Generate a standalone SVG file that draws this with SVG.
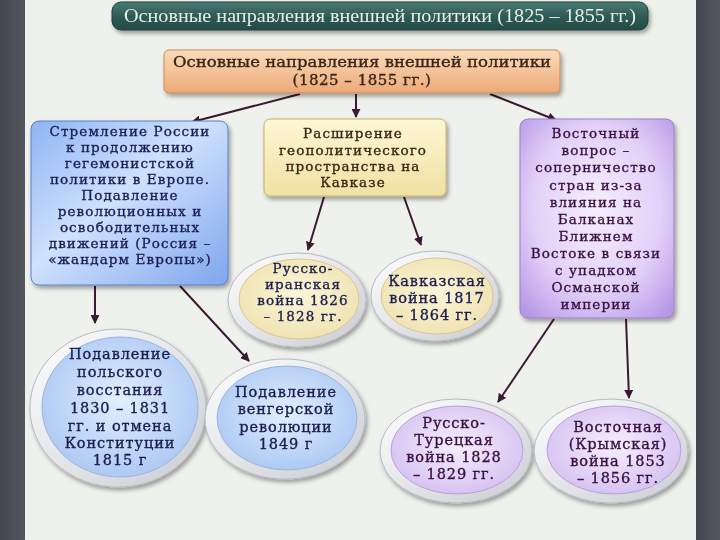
<svg xmlns="http://www.w3.org/2000/svg" width="720" height="540" viewBox="0 0 720 540">
<defs>
<linearGradient id="side" x1="0" y1="0" x2="1" y2="0"><stop offset="0" stop-color="#44474e"/><stop offset="1" stop-color="#53565d"/></linearGradient>
<linearGradient id="gTitle" x1="0" y1="0" x2="0" y2="1"><stop offset="0" stop-color="#4a7a74"/><stop offset="0.5" stop-color="#2f5b56"/><stop offset="1" stop-color="#244a45"/></linearGradient>
<linearGradient id="gTop" x1="0" y1="0" x2="0" y2="1"><stop offset="0" stop-color="#fbdcbb"/><stop offset="1" stop-color="#eca978"/></linearGradient>
<linearGradient id="gBlue" x1="0" y1="0" x2="1" y2="1"><stop offset="0" stop-color="#8fb4f3"/><stop offset="0.45" stop-color="#cfe2fd"/><stop offset="1" stop-color="#7fa5ec"/></linearGradient>
<linearGradient id="gYel" x1="0" y1="0" x2="0" y2="1"><stop offset="0" stop-color="#fdf7d6"/><stop offset="1" stop-color="#f0e1a2"/></linearGradient>
<radialGradient id="gPur" cx="0.5" cy="0.45" r="0.7"><stop offset="0" stop-color="#f6effd"/><stop offset="0.6" stop-color="#e2d0f8"/><stop offset="1" stop-color="#b597e6"/></radialGradient>
<radialGradient id="cCream" cx="0.5" cy="0.45" r="0.6"><stop offset="0" stop-color="#fbf5d8"/><stop offset="1" stop-color="#efe2b0"/></radialGradient>
<radialGradient id="cBlue" cx="0.5" cy="0.45" r="0.6"><stop offset="0" stop-color="#e3efff"/><stop offset="1" stop-color="#a9c6f2"/></radialGradient>
<radialGradient id="cPur" cx="0.5" cy="0.45" r="0.6"><stop offset="0" stop-color="#f6effd"/><stop offset="1" stop-color="#d3bff0"/></radialGradient>
<linearGradient id="rim" x1="0" y1="0" x2="1" y2="1"><stop offset="0" stop-color="#ffffff"/><stop offset="1" stop-color="#c9ccd3"/></linearGradient>
<filter id="sh" x="-10%" y="-10%" width="130%" height="140%"><feDropShadow dx="2" dy="3" stdDeviation="2" flood-color="#000" flood-opacity="0.35"/></filter>
<marker id="ah" viewBox="0 0 10 10" refX="9" refY="5" markerWidth="9" markerHeight="9" markerUnits="userSpaceOnUse" orient="auto"><path d="M0,0 L10,5 L0,10 z" fill="#3a1b34"/></marker>
<style>
text{font-family:"DejaVu Serif","Liberation Serif",serif;text-anchor:middle}
.t{font-size:13.5px;letter-spacing:1.1px;stroke-width:0.35px}
.c{font-size:14.5px;letter-spacing:0.9px;stroke-width:0.35px}
.blue{fill:#1d1d55;stroke:#1d1d55}
.yel{fill:#3a2616;stroke:#3a2616}
.pur{fill:#3a1242;stroke:#3a1242}
.navy{fill:#1b1f4e;stroke:#1b1f4e}
.con line{stroke:#3a1b34;stroke-width:2;marker-end:url(#ah)}
.rimE{fill:url(#rim);stroke:#b7bac4;stroke-width:1}
</style>
</defs>
<rect width="720" height="540" fill="#eef1ec"/>
<rect x="0" y="0" width="25" height="540" fill="url(#side)"/>
<rect x="696" y="0" width="24" height="540" fill="url(#side)"/>

<g id="title" filter="url(#sh)">
<rect x="112" y="2" width="536" height="28" rx="9" fill="url(#gTitle)" stroke="#1f3f3b"/>
<text x="380" y="22" style="font-family:'Liberation Serif',serif;font-size:18px" fill="#e8efe9" textLength="512" lengthAdjust="spacingAndGlyphs">Основные направления внешней политики (1825 – 1855 гг.)</text>
</g>

<g class="con">
<line x1="300" y1="94" x2="192" y2="122"/>
<line x1="356" y1="94" x2="356" y2="117"/>
<line x1="490" y1="94" x2="556" y2="120"/>
<line x1="95" y1="286" x2="95" y2="323"/>
<line x1="180" y1="286" x2="249" y2="361"/>
<line x1="324" y1="197" x2="308" y2="250"/>
<line x1="404" y1="197" x2="421" y2="245"/>
<line x1="554" y1="319" x2="498" y2="402"/>
<line x1="626" y1="319" x2="629" y2="398"/>
</g>

<g id="top" filter="url(#sh)">
<rect x="164" y="50" width="396" height="43" rx="5" fill="url(#gTop)" stroke="#c98a5a"/>
<text x="362" y="67" class="yel" style="font-size:15px;stroke-width:0.35px" textLength="378" lengthAdjust="spacingAndGlyphs">Основные направления внешней политики</text>
<text x="362" y="85" class="yel" style="font-size:15px;stroke-width:0.35px;letter-spacing:0.5px">(1825 – 1855 гг.)</text>
</g>

<g id="left" filter="url(#sh)">
<rect x="31" y="121" width="197" height="164" rx="8" fill="url(#gBlue)" stroke="#5a7fc8"/>
<text class="t blue" x="130" y="136">Стремление России</text>
<text class="t blue" x="130" y="152">к продолжению</text>
<text class="t blue" x="130" y="168">гегемонистской</text>
<text class="t blue" x="130" y="184">политики в Европе.</text>
<text class="t blue" x="130" y="200">Подавление</text>
<text class="t blue" x="130" y="216">революционных и</text>
<text class="t blue" x="130" y="232">освободительных</text>
<text class="t blue" x="130" y="248">движений (Россия –</text>
<text class="t blue" x="130" y="264">«жандарм Европы»)</text>
</g>

<g id="middle" filter="url(#sh)">
<rect x="264" y="119" width="182" height="77" rx="6" fill="url(#gYel)" stroke="#c8b070"/>
<text class="t yel" x="353" y="138">Расширение</text>
<text class="t yel" x="353" y="155">геополитического</text>
<text class="t yel" x="353" y="171">пространства на</text>
<text class="t yel" x="353" y="187">Кавказе</text>
</g>

<g id="right" filter="url(#sh)">
<rect x="520" y="119" width="154" height="199" rx="8" fill="url(#gPur)" stroke="#9a80c8"/>
<text class="t pur" x="596" y="138">Восточный</text>
<text class="t pur" x="596" y="155">вопрос –</text>
<text class="t pur" x="596" y="172">соперничество</text>
<text class="t pur" x="596" y="190">стран из-за</text>
<text class="t pur" x="596" y="207">влияния на</text>
<text class="t pur" x="596" y="224">Балканах</text>
<text class="t pur" x="596" y="241">Ближнем</text>
<text class="t pur" x="596" y="258">Востоке в связи</text>
<text class="t pur" x="596" y="275">с упадком</text>
<text class="t pur" x="596" y="292">Османской</text>
<text class="t pur" x="596" y="309">империи</text>
</g>

<g id="iran" filter="url(#sh)">
<ellipse class="rimE" cx="297" cy="300" rx="69" ry="47"/>
<ellipse cx="299" cy="299" rx="60" ry="40" fill="url(#cCream)" stroke="#d8c890"/>
<text class="t navy" x="303" y="273">Русско-</text>
<text class="t navy" x="303" y="289">иранская</text>
<text class="t navy" x="303" y="305">война 1826</text>
<text class="t navy" x="303" y="321">– 1828 гг.</text>
</g>

<g id="kavkaz" filter="url(#sh)">
<ellipse class="rimE" cx="435" cy="296" rx="64" ry="45"/>
<ellipse cx="437" cy="296" rx="56" ry="38" fill="url(#cCream)" stroke="#d8c890"/>
<text class="c navy" x="437" y="286">Кавказская</text>
<text class="c navy" x="437" y="303">война 1817</text>
<text class="c navy" x="437" y="320">– 1864 гг.</text>
</g>

<g id="poland" filter="url(#sh)">
<ellipse class="rimE" cx="118" cy="408" rx="88" ry="79"/>
<ellipse cx="120" cy="407" rx="78" ry="70" fill="url(#cBlue)" stroke="#9ab6e0"/>
<text class="c navy" x="120" y="359">Подавление</text>
<text class="c navy" x="120" y="377">польского</text>
<text class="c navy" x="120" y="395">восстания</text>
<text class="c navy" x="120" y="413">1830 – 1831</text>
<text class="c navy" x="120" y="431">гг. и отмена</text>
<text class="c navy" x="120" y="448">Конституции</text>
<text class="c navy" x="120" y="465">1815 г</text>
</g>

<g id="hungary" filter="url(#sh)">
<ellipse class="rimE" cx="285" cy="419" rx="80" ry="60"/>
<ellipse cx="287" cy="418" rx="70" ry="52" fill="url(#cBlue)" stroke="#9ab6e0"/>
<text class="c navy" x="286" y="397">Подавление</text>
<text class="c navy" x="286" y="414">венгерской</text>
<text class="c navy" x="286" y="432">революции</text>
<text class="c navy" x="286" y="449">1849 г</text>
</g>

<g id="turkey" filter="url(#sh)">
<ellipse class="rimE" cx="456" cy="451" rx="76" ry="52"/>
<ellipse cx="457" cy="450" rx="66" ry="44" fill="url(#cPur)" stroke="#b8a0dc"/>
<text class="c pur" x="454" y="428">Русско-</text>
<text class="c pur" x="454" y="445">Турецкая</text>
<text class="c pur" x="454" y="462">война 1828</text>
<text class="c pur" x="454" y="479">– 1829 гг.</text>
</g>

<g id="crimea" filter="url(#sh)">
<ellipse class="rimE" cx="611" cy="451" rx="77" ry="52"/>
<ellipse cx="614" cy="450" rx="67" ry="44" fill="url(#cPur)" stroke="#b8a0dc"/>
<text class="c pur" x="618" y="432">Восточная</text>
<text class="c pur" x="618" y="449">(Крымская)</text>
<text class="c pur" x="618" y="466">война 1853</text>
<text class="c pur" x="618" y="483">– 1856 гг.</text>
</g>
</svg>
